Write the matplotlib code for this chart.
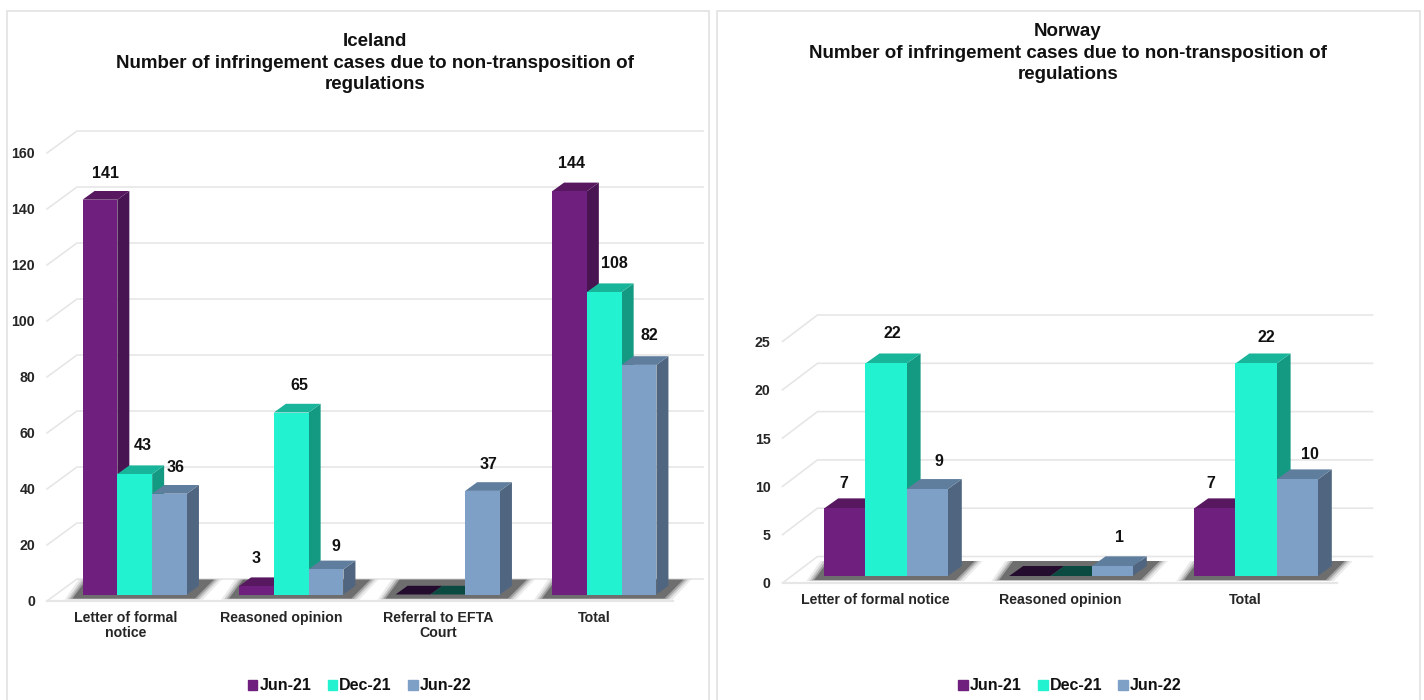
import matplotlib
matplotlib.use('Agg')
import matplotlib.pyplot as plt
from matplotlib.patches import Polygon, Patch, Rectangle

plt.rcParams['font.family'] = ['Liberation Sans', 'DejaVu Sans']
plt.rcParams['font.weight'] = 'bold'

W, H = 1424, 700

# data
series = ['Jun-21', 'Dec-21', 'Jun-22']

iceland_cats = ['Letter of formal\nnotice', 'Reasoned opinion', 'Referral to EFTA\nCourt', 'Total']
iceland_jun21 = [141, 3, 0, 144]
iceland_dec21 = [43, 65, 0, 108]
iceland_jun22 = [36, 9, 37, 82]
iceland_ticks = [0, 20, 40, 60, 80, 100, 120, 140, 160]

norway_cats = ['Letter of formal notice', 'Reasoned opinion', 'Total']
norway_jun21 = [7, 0, 7]
norway_dec21 = [22, 0, 22]
norway_jun22 = [9, 1, 10]
norway_ticks = [0, 5, 10, 15, 20, 25]

# colours: front, top, side, top of an empty bar
front = ['#6f1f7d', '#23f2d0', '#7fa0c6']
top = ['#571860', '#19b59b', '#5f7d9c']
side = ['#481552', '#149a83', '#506680']
empty = ['#240c2e', '#0b4a40', '#5f7d9c']
grid = '#e6e6e6'
text_col = '#111111'

# label nudges in pixels from the bar centre / bar top
iceland_nudge = [[(5.5, 26), (7.5, 29), (6, 26)],
                 [(0, 28), (8, 27), (10, 23)],
                 [(0, 0), (0, 0), (6, 26)],
                 [(2.5, 28), (10, 29), (10, 29)]]
norway_nudge = [[(-1, 25), (6.5, 30), (11.5, 28)],
                [(0, 0), (0, 0), (7, 29)],
                [(-3.6, 25), (10, 26), (13, 25)]]


def poly(ax, pts, color, z, alpha=1.0):
    ax.add_patch(Polygon(pts, closed=True, facecolor=color, edgecolor='none',
                         alpha=alpha, zorder=z, clip_on=False))


def draw_panel(fig, box, cats, values, ticks, nudges, shift, depth, bar_w, bar_depth):
    left, right, y0, ytop = box
    ax = fig.add_axes([left / W, 1 - y0 / H, (right - left) / W, (y0 - ytop) / H])
    n = len(cats)
    ax.set_xlim(-0.5, n - 0.5)
    ax.set_ylim(ticks[0], ticks[-1])
    ux = (right - left) / n        # pixels per category
    uy = (y0 - ytop) / ticks[-1]   # pixels per unit of value
    px = lambda p: p / ux
    py = lambda p: p / uy

    # back wall and floor lines
    xl, xr = -0.5, n - 0.5
    for t in ticks:
        ax.plot([xl, xl + px(depth[0]), xr + px(depth[0])],
                [t, t + py(depth[1]), t + py(depth[1])],
                color=grid, lw=1.2, zorder=1, clip_on=False, solid_joinstyle='miter')
    ax.plot([xl, xr], [0, 0], color=grid, lw=1.6, zorder=1, clip_on=False)

    w = px(bar_w)
    dx, dy = px(bar_depth[0]), py(bar_depth[1])
    base = py(shift[1])
    for i in range(n):
        # shadow under the group of bars, stacked to look blurred
        gx = i - 1.5 * w + px(shift[0])
        gw = 3 * w
        for k, a in [(8, 0.1), (5, 0.18), (2.5, 0.3), (0, 0.55)]:
            e = px(k)
            poly(ax, [(gx - px(10) - e, base - py(4) - py(k * 0.15)),
                      (gx + gw + px(8) + e, base - py(4) - py(k * 0.15)),
                      (gx + gw + px(27) + e, base + py(15)),
                      (gx + px(4) - e, base + py(15))], '#444444', 2, a)
        for j in range(3):
            v = values[j][i]
            x0 = i + (j - 1.5) * w + px(shift[0])
            yt = base + v
            # sides and top are worked out from the value
            if v > 0:
                poly(ax, [(x0 + w, base), (x0 + w + dx, base + dy),
                          (x0 + w + dx, yt + dy), (x0 + w, yt)], side[j], 3 + i + j)
            poly(ax, [(x0, yt), (x0 + w, yt), (x0 + w + dx, yt + dy), (x0 + dx, yt + dy)],
                 top[j] if v > 0 else empty[j], 3 + i + j)
            if v > 0:
                ax.bar(x0, v, width=w, bottom=base, align='edge', color=front[j],
                       zorder=3 + i + j, clip_on=False)
                nx, ny = nudges[i][j]
                ax.annotate(str(v), xy=(x0 + w / 2, yt), xytext=(nx * 0.72, ny * 0.72),
                            textcoords='offset points', ha='center', va='center',
                            fontsize=11.5, color=text_col, zorder=30)

    ax.set_xticks(range(n))
    ax.set_xticklabels(cats, fontsize=10.2, color='#262626', linespacing=1.05)
    ax.set_yticks(ticks)
    ax.set_yticklabels([str(t) for t in ticks], fontsize=10.2, color='#262626')
    ax.tick_params(axis='x', length=0, pad=7.3)
    ax.tick_params(axis='y', length=0, pad=8.5)
    for s in ax.spines.values():
        s.set_visible(False)
    ax.patch.set_alpha(0)
    return ax


fig = plt.figure(figsize=(W / 100, H / 100), dpi=100, facecolor='white')

# the two chart frames
for x0, x1 in [(6.5, 709), (716.5, 1419.5)]:
    fig.add_artist(Rectangle((x0 / W, -0.01), (x1 - x0) / W, 1.01 - 10.5 / H, transform=fig.transFigure,
                             facecolor='white', edgecolor='#e2e2e2', lw=1.2, zorder=-1))

draw_panel(fig, (47, 673, 601, 153), iceland_cats,
           [iceland_jun21, iceland_dec21, iceland_jun22], iceland_ticks, iceland_nudge,
           shift=(9.5, 6.5), depth=(30, 22), bar_w=34.8, bar_depth=(12, 8.7))
draw_panel(fig, (782.5, 1337.5, 583, 341.5), norway_cats,
           [norway_jun21, norway_dec21, norway_jun22], norway_ticks, norway_nudge,
           shift=(11, 7), depth=(35, 26.5), bar_w=41.2, bar_depth=(14, 10))

fig.text(375 / W, 1 - 63 / H,
         'Iceland\nNumber of infringement cases due to non-transposition of\nregulations',
         ha='center', va='center', fontsize=13.5, color=text_col, linespacing=1.38)
fig.text(1068 / W, 1 - 53 / H,
         'Norway\nNumber of infringement cases due to non-transposition of\nregulations',
         ha='center', va='center', fontsize=13.5, color=text_col, linespacing=1.38)

handles = [Patch(color=c, label=s) for c, s in zip(front, series)]
for cx in (359.5, 1070):
    fig.legend(handles=handles, loc='center', bbox_to_anchor=(cx / W, 1 - 686 / H),
               ncol=3, frameon=False, fontsize=11.5, handlelength=0.6, handleheight=0.6,
               handletextpad=0.12, columnspacing=1.02, labelcolor=text_col)

fig.savefig('out.png', dpi=100)
